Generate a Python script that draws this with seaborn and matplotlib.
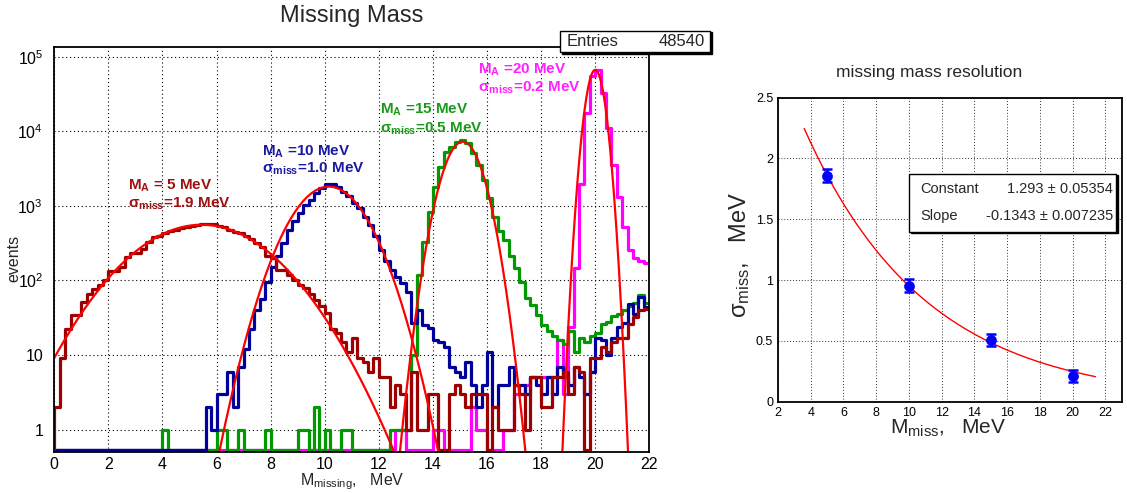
import numpy as np
import pandas as pd
import matplotlib
matplotlib.use("Agg")
import matplotlib.pyplot as plt
import seaborn as sns
from matplotlib.ticker import FixedLocator, MultipleLocator, LogLocator, NullFormatter, FixedFormatter
from matplotlib.patches import Rectangle

# ---------------- data ----------------
x_min, x_max, n_bins = 0.0, 22.0, 110

h_ma5 = [2, 9, 22, 34, 34, 51, 66, 78, 87, 101, 134, 134, 153, 205, 232, 232, 266, 328, 380,
         400, 430, 455, 480, 505, 530, 545, 560, 575, 570, 575, 545, 525, 480, 450, 430, 390,
         360, 316, 280, 215, 200, 140, 140, 118, 100, 88, 80, 66, 55, 45, 37, 22, 20, 15, 11, 17, 9, 8,
         6, 9, 5, 5, 2, 4, 3, 1, 6, 1, 1, 3, 3, 0, 0, 3, 4, 3, 2, 3, 3, 3, 0, 2, 1, 1, 1, 4, 3, 1,
         5, 5, 2, 2, 5, 5, 6, 3, 7, 6, 0, 9, 9, 13, 11, 15, 17, 17, 26, 32, 40, 42]

h_ma10 = [0] * 28 + [2, 1, 3, 3, 6, 2, 7, 12, 22, 40, 56, 95, 150, 210, 316, 477, 619, 808, 1035, 1207,
         1480, 1725, 1970, 1970, 1820, 1560, 1365, 1100, 930, 720, 560, 400, 260, 180, 140, 112, 92, 70,
         27, 40, 25, 23, 16, 15, 13, 7, 6, 5, 8, 4, 2, 4, 11, 2, 4, 4, 7, 4, 4, 3, 5, 4, 3, 5, 3, 7,
         5, 4, 7, 5, 3, 6, 17, 16, 10, 17, 24, 27, 49, 36, 60, 44]

h_ma15 = [0] * 20 + [1, 0, 0, 0, 0, 0, 0, 0, 0, 0, 1, 1, 0, 0, 1, 0, 0, 0, 0, 1, 0, 0, 0, 0, 0, 1, 1, 0, 2,
         0, 1, 0, 0, 1, 1, 0, 0, 0, 0, 0, 0, 0, 1, 1, 1, 1, 10, 120, 330, 840, 1820, 3360, 5350, 6200,
         7200, 7600, 7000, 5100, 3500, 2200, 1260, 720, 455, 350, 210, 145, 95, 58, 47, 34, 25, 21, 18,
         16, 14, 21, 11, 17, 15, 18, 20, 26, 28, 33, 36, 40, 45, 50, 64, 50]

h_ma20 = [0] * 63 + [1, 1, 0, 0, 0, 0, 0, 1, 1, 0, 0, 0, 0, 0, 2, 1, 1, 0, 0, 0, 1, 1, 3, 3, 4, 5, 5, 5,
         5, 5, 16, 3, 24, 146, 2000, 17500, 55000, 67000, 33000, 11000, 3600, 1300, 520, 260, 200, 185, 170]

fit_amp = [560, 1820, 7300, 67000]
fit_mean = [5.45, 10.15, 15.1, 20.0]
fit_sigma = [1.9, 1.0, 0.53, 0.25]

labels_ma = ["M$_\\mathbf{A}$ = 5 MeV", "M$_\\mathbf{A}$ =10 MeV", "M$_\\mathbf{A}$ =15 MeV", "M$_\\mathbf{A}$ =20 MeV"]
labels_sig = ["σ$_\\mathbf{miss}$=1.9 MeV", "σ$_\\mathbf{miss}$=1.0 MeV", "σ$_\\mathbf{miss}$=0.5 MeV", "σ$_\\mathbf{miss}$=0.2 MeV"]
entries = 48540

res_mass = [5, 10, 15, 20]
res_sigma = [1.86, 0.955, 0.505, 0.212]
res_err = [0.05, 0.05, 0.05, 0.05]
expo_const, expo_const_err = 1.293, 0.05354
expo_slope, expo_slope_err = -0.1343, 0.007235
expo_range = [3.6, 21.4]

# ---------------- style ----------------
sns.set_theme(style="white")
plt.rcParams['font.family'] = ['Liberation Sans', 'DejaVu Sans']
plt.rcParams['mathtext.fontset'] = 'custom'
plt.rcParams['mathtext.rm'] = 'Liberation Sans'
plt.rcParams['mathtext.it'] = 'Liberation Sans:italic'
plt.rcParams['mathtext.bf'] = 'Liberation Sans:bold'
plt.rcParams['axes.edgecolor'] = 'black'
plt.rcParams['axes.linewidth'] = 1.1

W, H = 1127, 493
fig = plt.figure(figsize=(W / 100, H / 100), dpi=100)
fig.patch.set_facecolor('white')

def fx(px):
    return px / W

def fy(py):
    return 1 - py / H

axL = fig.add_axes([fx(54.3), fy(451.5), fx(649.3) - fx(54.3), fy(47) - fy(451.5)])
axR = fig.add_axes([fx(778), fy(401.7), fx(1121.7) - fx(778), fy(97.7) - fy(401.7)])

# ---------------- left panel ----------------
floor = 0.525
edges = np.linspace(x_min, x_max, n_bins + 1)
hist_colors = {"20": "#ff00ff", "15": "#009a00", "10": "#00009c", "5": "#9c0000"}
for counts, key in [(h_ma20, "20"), (h_ma15, "15"), (h_ma10, "10"), (h_ma5, "5")]:
    y = np.maximum(np.asarray(counts, float), floor)
    xs = np.concatenate([[edges[0]], edges])
    ys = np.concatenate([[floor], y, [y[-1]]])
    df = pd.DataFrame({"x": xs, "y": ys})
    sns.lineplot(data=df, x="x", y="y", ax=axL, drawstyle="steps-post", color=hist_colors[key],
                 lw=2.3, estimator=None, sort=False, legend=False)

xf = np.linspace(x_min, x_max, 1500)
for a, m, s in zip(fit_amp, fit_mean, fit_sigma):
    g = np.maximum(a * np.exp(-0.5 * ((xf - m) / s) ** 2), 1e-30)
    sns.lineplot(x=xf, y=g, ax=axL, color="#ff0000", lw=1.6, legend=False, estimator=None, sort=False)

axL.set_yscale("log")
axL.set_xlim(x_min, x_max)
axL.set_ylim(0.507, 1.36e5)
axL.set_xlabel("")
axL.set_ylabel("")
axL.xaxis.set_major_locator(MultipleLocator(2))
axL.xaxis.set_minor_locator(MultipleLocator(0.5))
axL.yaxis.set_major_locator(FixedLocator([1, 10, 100, 1e3, 1e4, 1e5]))
axL.yaxis.set_major_formatter(FixedFormatter(["1", "10", "$10^{2}$", "$10^{3}$", "$10^{4}$", "$10^{5}$"]))
axL.yaxis.set_minor_locator(LogLocator(base=10, subs=np.arange(2, 10), numticks=20))
axL.yaxis.set_minor_formatter(NullFormatter())
axL.tick_params(which="both", direction="in", top=False, right=False, colors="black", labelsize=11.5)
axL.tick_params(axis="x", which="major", length=6, width=1.1, pad=4)
axL.tick_params(axis="x", which="minor", length=3.2, width=1.0)
axL.tick_params(axis="y", which="major", length=12, width=1.1, pad=8)
axL.tick_params(axis="y", which="minor", length=6.5, width=1.0)
axL.grid(True, which="major", color="black", ls=(0, (1, 2.5)), lw=0.8)
for sp in axL.spines.values():
    sp.set_linewidth(1.3)

fig.text(fx(352), fy(16), "Missing Mass", ha="center", va="center", fontsize=17)
fig.text(fx(14), fy(258), "events", rotation=90, ha="center", va="center", fontsize=11.5)
fig.text(fx(352), fy(485), "M$_{\\rm missing}$,   MeV", ha="center", va="baseline", fontsize=11.5)

# stats box
fig.patches.append(Rectangle((fx(561.5), fy(53.5)), fx(711.5) - fx(561.5), fy(32.5) - fy(53.5),
                             transform=fig.transFigure, facecolor="black", edgecolor="black", lw=1, zorder=5))
fig.patches.append(Rectangle((fx(560), fy(52)), fx(710) - fx(560), fy(31) - fy(52),
                             transform=fig.transFigure, facecolor="white", edgecolor="black", lw=1, zorder=6))
fig.text(fx(567), fy(42), "Entries", ha="left", va="center", fontsize=12, zorder=7)
fig.text(fx(705), fy(42), f"{entries}", ha="right", va="center", fontsize=12, zorder=7)

# peak labels
label_pos = [(128, 190, 208), (262, 156, 173), (380, 114, 133), (478, 74, 92)]
for key, (px, py1, py2), l1, l2 in zip(["5", "10", "15", "20"], label_pos, labels_ma, labels_sig):
    c = {"5": "#a01010", "10": "#1a1aa0", "15": "#1a9a1a", "20": "#ff22ff"}[key]
    fig.text(fx(px), fy(py1), l1, ha="left", va="baseline", fontsize=11, fontweight="bold", color=c)
    fig.text(fx(px), fy(py2), l2, ha="left", va="baseline", fontsize=11, fontweight="bold", color=c)

# ---------------- right panel ----------------
xe = np.linspace(expo_range[0], expo_range[1], 200)
sns.lineplot(x=xe, y=np.exp(expo_const + expo_slope * xe), ax=axR, color="#ff0000", lw=1.0,
             legend=False, estimator=None, sort=False)
axR.errorbar(res_mass, res_sigma, yerr=res_err, fmt="none", ecolor="#0000ff", elinewidth=1.8,
             capsize=3.5, capthick=1.8, zorder=4)
sns.scatterplot(x=res_mass, y=res_sigma, ax=axR, color="#0000ff", s=60, edgecolor="#0000ff",
                linewidth=0, zorder=5, legend=False)

axR.set_xlim(2, 23)
axR.set_ylim(0, 2.5)
axR.xaxis.set_major_locator(MultipleLocator(2))
axR.xaxis.set_minor_locator(MultipleLocator(0.4))
axR.yaxis.set_minor_locator(MultipleLocator(0.1))
axR.yaxis.set_major_locator(FixedLocator([0, 0.5, 1, 1.5, 2, 2.5]))
axR.yaxis.set_major_formatter(FixedFormatter(["0", "0.5", "1", "1.5", "2", "2.5"]))
axR.tick_params(which="both", direction="in", top=False, right=False, colors="black", labelsize=9)
axR.tick_params(axis="x", which="major", length=7.5, width=1.0, pad=3.5)
axR.tick_params(axis="x", which="minor", length=3.8, width=0.9)
axR.tick_params(axis="y", which="major", length=7.5, width=1.0, pad=3.5)
axR.tick_params(axis="y", which="minor", length=3.8, width=0.9)
axR.grid(True, which="major", color="#333333", ls=(0, (1, 2)), lw=0.7)
for sp in axR.spines.values():
    sp.set_linewidth(1.3)

fig.text(fx(929), fy(73), "missing mass resolution", ha="center", va="center", fontsize=12.5)
fig.text(fx(740), fy(255), "σ$_{\\rm miss}$,   MeV", rotation=90, ha="center", va="center", fontsize=17)
fig.text(fx(948), fy(434), "M$_{\\rm miss}$,   MeV", ha="center", va="baseline", fontsize=15)

fig.patches.append(Rectangle((fx(911), fy(233)), fx(1117.5) - fx(911), fy(175) - fy(233),
                             transform=fig.transFigure, facecolor="black", edgecolor="black", lw=1, zorder=5))
fig.patches.append(Rectangle((fx(909), fy(231.5)), fx(1116) - fx(909), fy(173.5) - fy(231.5),
                             transform=fig.transFigure, facecolor="white", edgecolor="black", lw=1, zorder=6))
fig.text(fx(920), fy(189), "Constant", ha="left", va="center", fontsize=10.5, zorder=7)
fig.text(fx(1113), fy(189), f"{expo_const} ± {expo_const_err}", ha="right", va="center", fontsize=10.5, zorder=7)
fig.text(fx(920), fy(216), "Slope", ha="left", va="center", fontsize=10.5, zorder=7)
fig.text(fx(1113), fy(216), f"{expo_slope} ± {expo_slope_err}", ha="right", va="center", fontsize=10.5, zorder=7)

fig.savefig("out.png", dpi=100, facecolor="white")
